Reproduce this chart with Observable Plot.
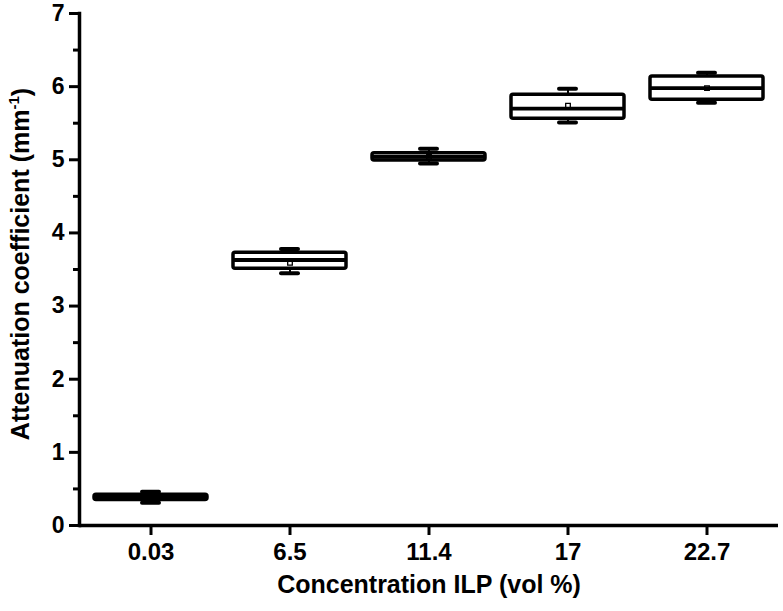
<!DOCTYPE html>
<html>
<head>
<meta charset="utf-8">
<script src="https://cdn.jsdelivr.net/npm/d3@7"></script>
<script src="https://cdn.jsdelivr.net/npm/@observablehq/plot@0.6"></script>
<style>
  html, body { margin: 0; padding: 0; background: #fff; }
</style>
</head>
<body>
<div id="chart"></div>
<script>
const categories = ["0.03", "6.5", "11.4", "17", "22.7"];
const q1 = [0.35, 3.51, 4.99, 5.56, 5.82];
const median = [0.385, 3.63, 5.04, 5.70, 5.98];
const q3 = [0.42, 3.73, 5.09, 5.89, 6.14];
const whiskerLow = [0.31, 3.45, 4.95, 5.51, 5.78];
const whiskerHigh = [0.46, 3.78, 5.15, 5.97, 6.19];
const mean = [0.385, 3.59, 5.04, 5.74, 5.98];
const yTicks = [0, 1, 2, 3, 4, 5, 6, 7];
const yMinorTicks = [0.5, 1.5, 2.5, 3.5, 4.5, 5.5, 6.5];
const xTitle = "Concentration ILP (vol %)";

const boxes = categories.map((c, i) => ({
  cat: c, q1: q1[i], med: median[i], q3: q3[i],
  lo: whiskerLow[i], hi: whiskerHigh[i], mean: mean[i]
}));

const FONT = '"Liberation Sans", Arial, sans-serif';
const chart = Plot.plot({
  width: 783,
  height: 611,
  marginLeft: 79,
  marginRight: 5,
  marginTop: 13,
  marginBottom: 86,
  style: { fontFamily: FONT, color: "#000", background: "#fff" },
  x: { domain: categories, padding: 0, label: null },
  y: { domain: [0, 7], label: null },
  marks: [
    Plot.ruleX(boxes, { x: "cat", y1: "q3", y2: "hi", stroke: "#000", strokeWidth: 2 }),
    Plot.ruleX(boxes, { x: "cat", y1: "lo", y2: "q1", stroke: "#000", strokeWidth: 2 }),
    Plot.tickY(boxes, { x: "cat", y: "hi", stroke: "#000", strokeWidth: 4, insetLeft: 61, insetRight: 61, strokeLinecap: "round" }),
    Plot.tickY(boxes, { x: "cat", y: "lo", stroke: "#000", strokeWidth: 4, insetLeft: 61, insetRight: 61, strokeLinecap: "round" }),
    Plot.barY(boxes, { x: "cat", y1: "q1", y2: "q3", fill: "#fff", stroke: "#000", strokeWidth: 3.5, insetLeft: 13, insetRight: 13, rx: 2 }),
    Plot.tickY(boxes, { x: "cat", y: "med", stroke: "#000", strokeWidth: 3.8, insetLeft: 13, insetRight: 13 }),
    Plot.dot(boxes, { x: "cat", y: "mean", symbol: "square", r: 2.6, fill: "none", stroke: "#000", strokeWidth: 1.3 }),
    Plot.axisY(yTicks, { tickSize: 10, tickPadding: 5, strokeWidth: 3, fontSize: 23, fontWeight: "bold", tickFormat: d3.format("d"), label: null }),
    Plot.axisY(yMinorTicks, { tickSize: 6, strokeWidth: 3, stroke: "#000", tickFormat: () => "", label: null }),
    Plot.axisX({ tickSize: 10, tickPadding: 7, strokeWidth: 3, fontSize: 24, fontWeight: "bold", label: null }),
    Plot.frame({ anchor: "left", stroke: "#000", strokeWidth: 3.5 }),
    Plot.ruleY([0], { stroke: "#000", strokeWidth: 3.5 }),
    Plot.text([xTitle], { frameAnchor: "bottom", dy: 67, fontSize: 25, fontWeight: "bold", fill: "#000" })
  ]
});

document.getElementById("chart").appendChild(chart);

const svg = d3.select(chart);
const yLabel = svg.append("text")
  .attr("transform", "translate(29,264) rotate(-90)")
  .attr("text-anchor", "middle")
  .attr("font-family", FONT)
  .attr("font-size", 25)
  .attr("font-weight", "bold")
  .attr("fill", "#000");
yLabel.append("tspan").text("Attenuation coefficient (mm");
yLabel.append("tspan").attr("font-size", 15).attr("dy", "-0.7em").text("-1");
yLabel.append("tspan").attr("dy", "0.45em").text(")");
</script>
</body>
</html>
